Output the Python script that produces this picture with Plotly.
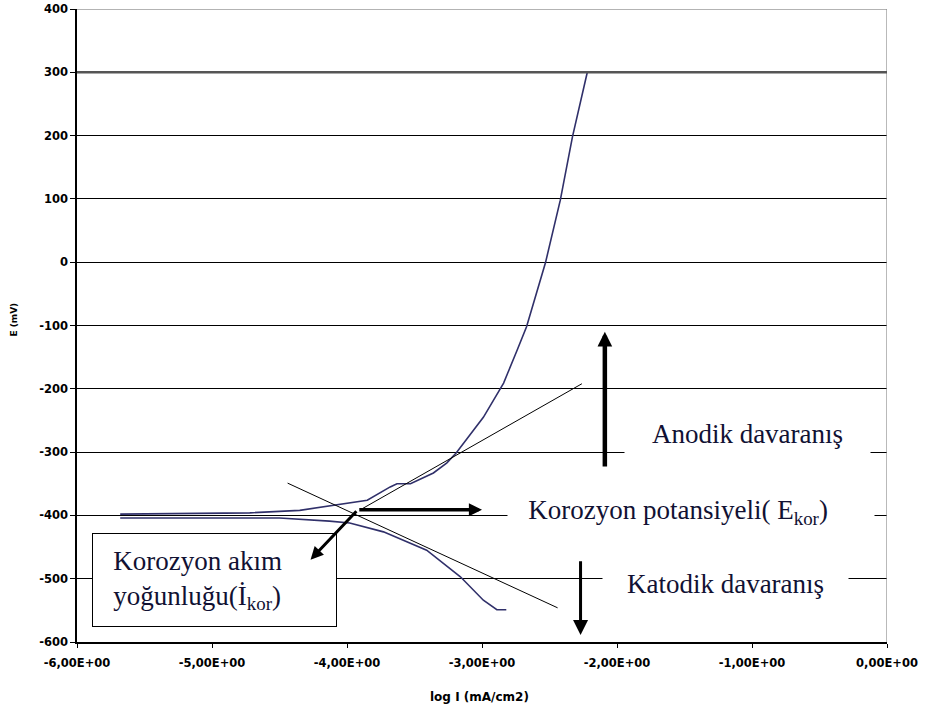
import plotly.graph_objects as go

# ---- data ----
anodic_log_i = [-5.68, -4.72, -4.35, -4.10, -3.85, -3.68, -3.63, -3.53, -3.36, -3.26,
                -3.19, -2.99, -2.84, -2.74, -2.67, -2.53, -2.42, -2.33, -2.22]
anodic_E = [-398, -396, -392, -384, -376, -355, -350, -350, -333, -317,
            -301, -245, -191, -139, -102, -1, 98, 198, 300]

cathodic_log_i = [-5.68, -4.50, -4.13, -3.98, -3.73, -3.41, -3.16, -2.99, -2.89, -2.82]
cathodic_E = [-404, -404, -409, -412, -426, -455, -497, -534, -549, -549]

tafel_anodic_log_i = [-3.90, -2.26]
tafel_anodic_E = [-391, -192]
tafel_cathodic_log_i = [-4.44, -2.44]
tafel_cathodic_E = [-349, -546]

# arrows: (tail_x, tail_y, head_x, head_y)
arrow_anodic = (-2.09, -325, -2.09, -110)
arrow_ekor = (-3.92, -391, -3.00, -391)
arrow_katodik = (-2.27, -470, -2.27, -589)
arrow_ikor = (-3.92, -391, -4.27, -470)

x_tickvals = [-6, -5, -4, -3, -2, -1, 0]
x_ticktext = ["-6,00E+00", "-5,00E+00", "-4,00E+00", "-3,00E+00", "-2,00E+00", "-1,00E+00", "0,00E+00"]
y_tickvals = [-600, -500, -400, -300, -200, -100, 0, 100, 200, 300, 400]
y_ticktext = ["-600", "-500", "-400", "-300", "-200", "-100", "0", "100", "200", "300", "400"]

label_anodic = "Anodik davaranış"
label_ekor = "&nbsp;&nbsp;&nbsp;Korozyon potansiyeli( E<sub>kor</sub>)"
label_katodik = "Katodik davaranış"
label_ikor = "&nbsp;&nbsp;&nbsp;Korozyon akım<br>&nbsp;&nbsp;&nbsp;yoğunluğu(İ<sub>kor</sub>)"

curve_color = "#30306a"
text_color = "#111133"
serif = "'Liberation Serif', 'Times New Roman', 'DejaVu Serif', serif"

fig = go.Figure()
fig.add_trace(go.Scatter(x=anodic_log_i, y=anodic_E, mode="lines",
                         line=dict(color=curve_color, width=1.6), showlegend=False))
fig.add_trace(go.Scatter(x=cathodic_log_i, y=cathodic_E, mode="lines",
                         line=dict(color=curve_color, width=1.6), showlegend=False))
fig.add_trace(go.Scatter(x=tafel_anodic_log_i, y=tafel_anodic_E, mode="lines",
                         line=dict(color="black", width=1), showlegend=False))
fig.add_trace(go.Scatter(x=tafel_cathodic_log_i, y=tafel_cathodic_E, mode="lines",
                         line=dict(color="black", width=1), showlegend=False))

tickfont = dict(family="DejaVu Sans", size=11.5, color="black", weight="bold")

fig.update_layout(
    width=925, height=704,
    margin=dict(l=77, r=38, t=9, b=62),
    paper_bgcolor="white", plot_bgcolor="white",
    xaxis=dict(range=[-6, 0], tickvals=x_tickvals, ticktext=x_ticktext, automargin=False,
               showgrid=False, zeroline=False, showline=True, linecolor="black", linewidth=1.5,
               ticks="outside", ticklen=4, tickcolor="black", tickfont=tickfont,
               ticklabelstandoff=5, ticklabeloverflow="allow"),
    yaxis=dict(range=[-600, 400], tickvals=y_tickvals, ticktext=y_ticktext, automargin=False,
               showgrid=True, gridcolor="black", gridwidth=1.2, zeroline=False,
               showline=True, linecolor="black", linewidth=1.5,
               ticks="outside", ticklen=5, tickcolor="black", tickfont=tickfont,
               ticklabeloverflow="allow"),
)

# frame details: light top border, right border, heavier 300 line
fig.add_shape(type="line", xref="x", yref="y", x0=-6, x1=0, y0=400, y1=400,
              line=dict(color="#9a9a9a", width=1.5))
fig.add_shape(type="line", xref="x", yref="y", x0=0, x1=0, y0=-600, y1=400,
              line=dict(color="#8a8a8a", width=1.2))
fig.add_shape(type="line", xref="x", yref="y", x0=-6, x1=0, y0=300, y1=300,
              line=dict(color="#555555", width=2.5))

annotations = []
# axis titles
annotations.append(dict(text="E (mV)", xref="paper", yref="paper", x=-0.078, y=0.509,
                        xanchor="center", yanchor="middle", showarrow=False, textangle=-90,
                        font=dict(family="DejaVu Sans", size=9, color="black", weight="bold")))
annotations.append(dict(text="log I (mA/cm2)", xref="paper", yref="paper", x=0.497, y=-0.087,
                        xanchor="center", yanchor="middle", showarrow=False,
                        font=dict(family="DejaVu Sans", size=12, color="black", weight="bold")))

# text labels with white background
annotations.append(dict(text=label_anodic, x=-1.03, y=-272, xref="x", yref="y", showarrow=False,
                        width=245, height=44, bgcolor="white", borderpad=0,
                        font=dict(family=serif, size=27, color=text_color)))
annotations.append(dict(text=label_ekor, x=-2.815, y=-395, xref="x", yref="y", showarrow=False,
                        xanchor="left", width=366, height=36, align="left", bgcolor="white", borderpad=0,
                        font=dict(family=serif, size=27, color=text_color)))
annotations.append(dict(text=label_katodik, x=-1.2, y=-508, xref="x", yref="y", showarrow=False,
                        width=245, height=36, bgcolor="white", borderpad=0,
                        font=dict(family=serif, size=27, color=text_color)))
annotations.append(dict(text=label_ikor, x=-5.889, y=-428, xref="x", yref="y", showarrow=False,
                        xanchor="left", yanchor="top", width=243, height=92, align="left",
                        bgcolor="white", bordercolor="black", borderwidth=1, borderpad=0,
                        font=dict(family=serif, size=27, color=text_color)))

# arrows
def arrow(a, width, size):
    tx, ty, hx, hy = a
    return dict(text="", x=hx, y=hy, ax=tx, ay=ty, xref="x", yref="y", axref="x", ayref="y",
                showarrow=True, arrowhead=2, arrowwidth=width, arrowsize=size,
                arrowcolor="black", standoff=0, startstandoff=0)

annotations.append(arrow(arrow_anodic, 4.5, 0.65))
annotations.append(arrow(arrow_ekor, 3.5, 0.75))
annotations.append(arrow(arrow_katodik, 3, 1.0))
annotations.append(arrow(arrow_ikor, 3, 0.85))

fig.update_layout(annotations=annotations)
# remove the default 8px page margin so the figure sits at the window origin
fig.write_html("out.html", config={"displayModeBar": False},
               post_script="document.body.style.margin='0';")
